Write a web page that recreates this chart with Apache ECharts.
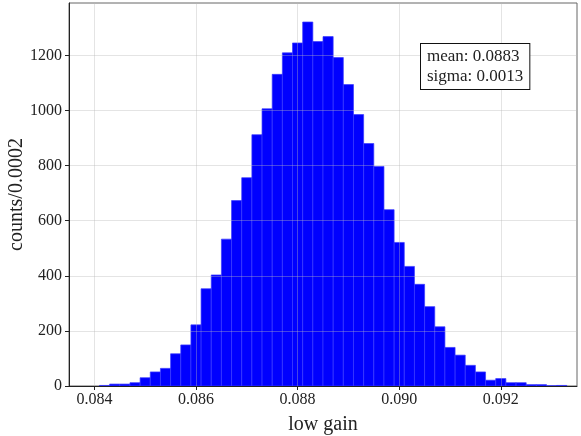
<!DOCTYPE html>
<html>
<head>
<meta charset="utf-8">
<title>low gain</title>
<script src="https://cdn.jsdelivr.net/npm/echarts@6/dist/echarts.min.js"></script>
<style>
  html, body { margin: 0; padding: 0; background: #fff; }
  #chart { width: 581px; height: 436px; }
</style>
</head>
<body>
<div id="chart"></div>
<script>
// bin centres (width 0.0002) and counts
const binCenters = [
  0.0842, 0.0844, 0.0846, 0.0848, 0.0850, 0.0852, 0.0854, 0.0856, 0.0858,
  0.0860, 0.0862, 0.0864, 0.0866, 0.0868, 0.0870, 0.0872, 0.0874, 0.0876,
  0.0878, 0.0880, 0.0882, 0.0884, 0.0886, 0.0888, 0.0890, 0.0892, 0.0894,
  0.0896, 0.0898, 0.0900, 0.0902, 0.0904, 0.0906, 0.0908, 0.0910, 0.0912,
  0.0914, 0.0916, 0.0918, 0.0920, 0.0922, 0.0924, 0.0926, 0.0928, 0.0930,
  0.0932
]
const counts = [
  2, 7, 7, 12, 30, 51, 64, 117, 149,
  222, 353, 403, 533, 673, 756, 912, 1006, 1131,
  1209, 1245, 1321, 1250, 1268, 1192, 1094, 985, 880,
  797, 640, 521, 434, 369, 288, 215, 140, 112,
  75, 51, 21, 27, 12, 12, 5, 5, 1,
  2
]
const binWidth = 0.0002
const xTicks = [0.084, 0.086, 0.088, 0.090, 0.092]
const yTicks = [0, 200, 400, 600, 800, 1000, 1200]
const statsText = 'mean: 0.0883\nsigma: 0.0013'

const font = '"Liberation Serif", "DejaVu Serif", serif'
const gridColor = 'rgba(185,185,185,0.38)'

const chart = echarts.init(document.getElementById('chart'))
chart.setOption({
  backgroundColor: '#fff',
  animation: false,
  grid: {
    left: 69,
    right: 4,
    top: 3,
    bottom: 50,
    containLabel: false,
    outerBoundsMode: 'none',
    show: true,
    borderColor: '#666',
    borderWidth: 1
  },
  xAxis: {
    type: 'value',
    min: 0.0835,
    max: 0.0935,
    z: 10,
    name: 'low gain',
    nameLocation: 'middle',
    nameGap: 29,
    nameMoveOverlap: false,
    nameTextStyle: { fontFamily: font, fontSize: 20, color: '#222' },
    axisLine: { onZero: false, lineStyle: { color: '#222', width: 1 } },
    axisTick: { customValues: xTicks, length: 4, inside: false, lineStyle: { color: '#222' } },
    axisLabel: {
      customValues: xTicks,
      fontFamily: font,
      fontSize: 16,
      color: '#222',
      margin: 6,
      formatter: v => v.toFixed(3)
    },
    splitLine: { show: true, lineStyle: { color: gridColor, width: 1 } }
  },
  yAxis: {
    type: 'value',
    min: 0,
    max: 1390,
    z: 10,
    name: 'counts/0.0002',
    nameLocation: 'middle',
    nameGap: 42,
    nameMoveOverlap: false,
    nameTextStyle: { fontFamily: font, fontSize: 20, color: '#222' },
    axisLine: { show: true, lineStyle: { color: '#222', width: 1 } },
    axisTick: { show: true, customValues: yTicks, length: 4, lineStyle: { color: '#222' } },
    axisLabel: {
      customValues: yTicks,
      fontFamily: font,
      fontSize: 16,
      color: '#222',
      margin: 7,
      formatter: v => String(v)
    },
    splitLine: { show: true, lineStyle: { color: gridColor, width: 1 } }
  },
  graphic: [{
    type: 'text',
    left: 420,
    top: 43,
    z: 100,
    style: {
      text: statsText,
      fontFamily: font,
      fontSize: 17,
      lineHeight: 20,
      fill: '#222',
      backgroundColor: '#fff',
      borderColor: '#111',
      borderWidth: 1,
      padding: [3, 6, 2, 6]
    }
  }],
  series: [{
    type: 'custom',
    z: 2,
    data: binCenters.map((c, i) => [c, counts[i]]),
    renderItem(params, api) {
      const c = api.value(0)
      const n = api.value(1)
      const p0 = api.coord([c - binWidth / 2, n])
      const p1 = api.coord([c + binWidth / 2, 0])
      return {
        type: 'rect',
        shape: { x: p0[0], y: p0[1], width: p1[0] - p0[0], height: p1[1] - p0[1] },
        style: { fill: '#0000ff', stroke: '#3a3aff', lineWidth: 0.7 }
      }
    }
  }]
})
</script>
</body>
</html>
